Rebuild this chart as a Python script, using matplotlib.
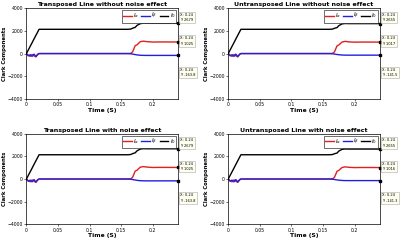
import matplotlib.pyplot as plt

titles = ['Transposed Line without noise effect', 'Untransposed Line without noise effect',
          'Transposed Line with noise effect', 'Untransposed Line with noise effect']

# time points (s)
t_start = [0, 0.003, 0.006, 0.009, 0.012, 0.015, 0.018, 0.02]
t_mid = [0.16, 0.165, 0.168, 0.172, 0.175, 0.18, 0.185, 0.19, 0.2, 0.21, 0.24]

alpha_start = [0, -150, -250, -80, -200, -300, -100, 0]
beta_start = [0, -200, -100, -250, -50, -250, -50, 0]
zero_start = [0, 320, 640, 960, 1290, 1610, 1930, 2150]

alpha_end = [[0, 20, 150, 700, 780, 1050, 1100, 1060, 1020, 1030, 1025],
              [0, 20, 150, 680, 770, 1020, 1080, 1040, 1010, 1020, 1017],
              [0, 20, 150, 700, 780, 1050, 1100, 1060, 1020, 1030, 1025],
              [0, 20, 150, 680, 770, 1020, 1080, 1040, 1010, 1020, 1016]]
beta_end = [[0, -20, -50, -90, -120, -150, -160, -165, -165, -164, -163.8],
             [0, -20, -45, -80, -105, -130, -140, -142, -142, -141, -141.5],
             [0, -20, -50, -90, -120, -150, -160, -165, -165, -164, -163.8],
             [0, -20, -45, -80, -105, -130, -140, -142, -142, -141, -141.3]]
zero_end = [[2150, 2170, 2250, 2320, 2500, 2650, 2690, 2680, 2680, 2679, 2679],
             [2150, 2170, 2240, 2300, 2480, 2630, 2665, 2655, 2655, 2655, 2655],
             [2150, 2170, 2250, 2320, 2500, 2650, 2690, 2680, 2680, 2679, 2679],
             [2150, 2170, 2240, 2300, 2480, 2630, 2665, 2655, 2655, 2655, 2655]]
tip_labels = [['2679', '1025', '-163.8'], ['2655', '1017', '-141.5'],
              ['2679', '1025', '-163.8'], ['2655', '1016', '-141.3']]

fig, axes = plt.subplots(2, 2, figsize=(4, 2.41), dpi=100)
plt.subplots_adjust(left=0.066, right=0.95, top=0.965, bottom=0.07, wspace=0.33, hspace=0.39)

for k, ax in enumerate(axes.flat):
    ta = t_start + t_mid
    a = alpha_start + alpha_end[k]
    b = beta_start + beta_end[k]
    z = zero_start + zero_end[k]
    ax.plot(ta, a, color='#e02020', lw=1.0, label=r'$I_\alpha$')
    ax.plot(ta, b, color='#2020e0', lw=1.0, label=r'$I_\beta$')
    ax.plot(ta, z, color='black', lw=1.0, label=r'$I_0$')
    for v in [a[-1], b[-1], z[-1]]:
        ax.plot(0.24, v, 's', color='black', ms=2, clip_on=False)
    ax.set_xlim(0, 0.24)
    ax.set_ylim(-4000, 4000)
    ax.set_xticks([0, 0.05, 0.1, 0.15, 0.2])
    ax.set_xticklabels(['0', '0.05', '0.1', '0.15', '0.2'])
    ax.set_yticks([-4000, -2000, 0, 2000, 4000])
    ax.tick_params(labelsize=3.3, length=1.5, width=0.4, pad=1)
    for s in ax.spines.values():
        s.set_linewidth(0.5)
    ax.set_title(titles[k], fontsize=4.5, fontweight='bold', pad=1.5)
    ax.set_xlabel('Time (S)', fontsize=4.3, fontweight='bold', labelpad=0.5)
    ax.set_ylabel('Clark Components', fontsize=3.8, fontweight='bold')
    ax.yaxis.set_label_coords(-0.13, 0.5)
    ax.legend(loc='upper right', ncol=3, fontsize=4, handlelength=1.6, columnspacing=0.4,
              handletextpad=0.2, borderpad=0.2, frameon=True, fancybox=False,
              edgecolor='black', framealpha=1, borderaxespad=0.3).get_frame().set_linewidth(0.4)
    for yy, lab in zip([0.95, 0.69, 0.34], tip_labels[k]):
        ax.text(1.015, yy, 'X: 0.24\nY: ' + lab, transform=ax.transAxes, fontsize=2.6, va='top',
                ha='left', linespacing=1.4,
                bbox=dict(boxstyle='square,pad=0.35', fc='#fffff0', ec='#aaaaaa', lw=0.4))

fig.savefig('out.png', dpi=100)
